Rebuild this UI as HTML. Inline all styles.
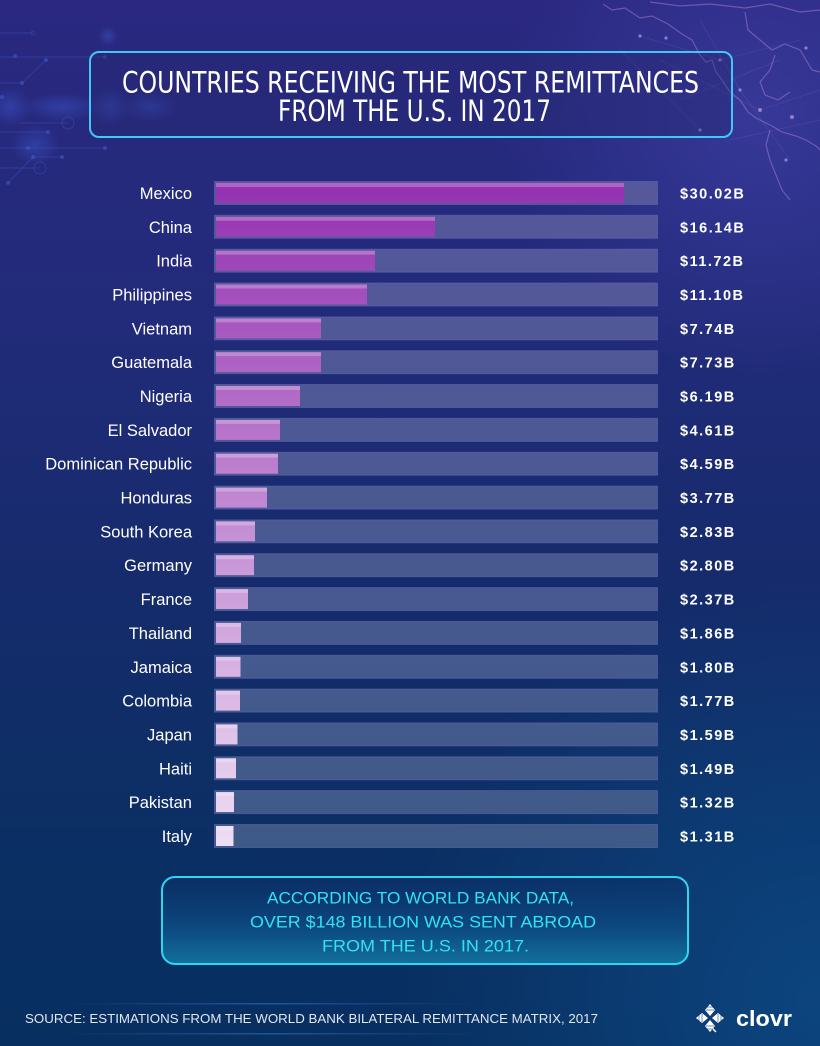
<!DOCTYPE html>
<html><head><meta charset="utf-8"><style>
html,body{margin:0;padding:0;background:#1b2b72;}
svg{display:block;}
</style></head><body>
<svg width="820" height="1046" viewBox="0 0 820 1046" xmlns="http://www.w3.org/2000/svg">
<defs>
<linearGradient id="bg" x1="0" y1="0" x2="0" y2="1">
<stop offset="0" stop-color="#2a2880"/>
<stop offset="0.3" stop-color="#222b7a"/>
<stop offset="0.55" stop-color="#162b6c"/>
<stop offset="0.8" stop-color="#0b2f64"/>
<stop offset="1" stop-color="#072f60"/>
</linearGradient>
<radialGradient id="glowbr" cx="820" cy="1000" r="420" gradientUnits="userSpaceOnUse">
<stop offset="0" stop-color="#0e4a86" stop-opacity="0.8"/>
<stop offset="1" stop-color="#0e4a86" stop-opacity="0"/>
</radialGradient>
<radialGradient id="glowtr" cx="760" cy="120" r="260" gradientUnits="userSpaceOnUse">
<stop offset="0" stop-color="#4a4ab8" stop-opacity="0.45"/>
<stop offset="1" stop-color="#4a4ab8" stop-opacity="0"/>
</radialGradient>
<radialGradient id="blob" cx="0.5" cy="0.5" r="0.5">
<stop offset="0" stop-color="#3c5ad0" stop-opacity="0.45"/>
<stop offset="1" stop-color="#3c5ad0" stop-opacity="0"/>
</radialGradient>
<linearGradient id="trk" x1="0" y1="181" x2="0" y2="848" gradientUnits="userSpaceOnUse">
<stop offset="0" stop-color="#56589c"/>
<stop offset="1" stop-color="#3e5a88"/>
</linearGradient>
<linearGradient id="fil" x1="0" y1="181" x2="0" y2="848" gradientUnits="userSpaceOnUse">
<stop offset="0" stop-color="#9330b0"/>
<stop offset="0.5" stop-color="#c28bd3"/>
<stop offset="1" stop-color="#eedef4"/>
</linearGradient>
<linearGradient id="info" x1="0" y1="0" x2="0" y2="1">
<stop offset="0" stop-color="#0a2f68" stop-opacity="0.6"/>
<stop offset="0.6" stop-color="#0c4a80"/>
<stop offset="1" stop-color="#12709c"/>
</linearGradient>
<linearGradient id="hl" x1="0" y1="0" x2="1" y2="0">
<stop offset="0" stop-color="#3a7ad8" stop-opacity="0"/>
<stop offset="0.5" stop-color="#3a7ad8" stop-opacity="0.5"/>
<stop offset="1" stop-color="#3a7ad8" stop-opacity="0"/>
</linearGradient>
</defs>

<rect x="0" y="0" width="820" height="1046" fill="url(#bg)"/>
<rect x="0" y="0" width="820" height="1046" fill="url(#glowbr)"/>
<rect x="0" y="0" width="820" height="1046" fill="url(#glowtr)"/>

<!-- left circuit decoration -->
<g stroke="#4060d0" stroke-opacity="0.35" stroke-width="1" fill="none">
<path d="M0 33 H33"/>
<path d="M0 57 H105"/>
<path d="M0 83 H22 L46 60"/>
<path d="M0 148 H105"/>
<path d="M20 123 H68"/>
<path d="M0 132 H48"/>
<path d="M33 157 H62"/>
<path d="M8 183 L33 157"/>
<path d="M0 168 H40"/>
<circle cx="33" cy="33" r="2"/>
<circle cx="68" cy="123" r="6"/>
<circle cx="40" cy="168" r="6"/>
</g>
<g fill="#4a66d8" fill-opacity="0.45">
<circle cx="15" cy="56" r="2"/><circle cx="46" cy="60" r="2"/><circle cx="105" cy="57" r="2"/>
<circle cx="22" cy="83" r="2"/><circle cx="2" cy="97" r="2"/><circle cx="48" cy="132" r="2"/>
<circle cx="33" cy="157" r="2"/><circle cx="62" cy="157" r="2"/><circle cx="28" cy="148" r="2"/>
<circle cx="105" cy="148" r="2"/><circle cx="8" cy="183" r="2"/>
</g>
<ellipse cx="10" cy="107" rx="22" ry="20" fill="url(#blob)"/>
<ellipse cx="62" cy="107" rx="40" ry="14" fill="url(#blob)"/>
<ellipse cx="110" cy="107" rx="20" ry="20" fill="url(#blob)"/>
<ellipse cx="150" cy="107" rx="30" ry="16" fill="url(#blob)"/>
<ellipse cx="108" cy="36" rx="10" ry="10" fill="url(#blob)"/>
<ellipse cx="35" cy="145" rx="25" ry="20" fill="url(#blob)"/>

<!-- top-right map decoration -->
<g stroke="#b68ad8" stroke-opacity="0.45" stroke-width="1.2" fill="none">
<path d="M603 4 L612 10 L625 8 L640 18 L652 16 L668 24 L682 34 L692 40 L700 55 L706 62 L712 60 L716 72 L722 80 L730 92 L740 100 L748 112 L756 118 L764 122 L772 126"/>
<path d="M772 126 L782 132 L796 136 L806 140 L816 146 L820 150"/>
<path d="M770 130 L766 145 L770 160 L776 175 L782 190 L790 200"/>
<path d="M650 2 L680 6 L710 4 L745 8 L770 4 L800 12 L820 10"/>
<path d="M745 12 L748 30 L760 40 L772 50 L785 44 L800 50 L812 70 L820 72"/>
<path d="M775 55 L770 70 L760 82 L765 95 L778 100 L790 92"/>
</g>
<g stroke="#8a7ad8" stroke-opacity="0.2" stroke-width="0.8" fill="none">
<path d="M640 36 L720 60 L800 40"/><path d="M660 60 L760 110 L820 90"/>
<path d="M700 20 L740 90 L790 160"/><path d="M620 50 L700 130"/>
<path d="M730 140 L820 120"/><path d="M680 100 L780 60"/>
</g>
<g fill="#c8b0f0" fill-opacity="0.6">
<circle cx="666" cy="38" r="1.6"/><circle cx="720" cy="60" r="1.6"/><circle cx="760" cy="110" r="2"/>
<circle cx="740" cy="90" r="1.6"/><circle cx="786" cy="160" r="1.6"/><circle cx="806" cy="48" r="1.6"/>
<circle cx="792" cy="117" r="2"/><circle cx="700" cy="130" r="1.6"/><circle cx="640" cy="36" r="1.6"/>
</g>

<!-- title box -->
<rect x="90" y="52" width="642" height="85" rx="9" ry="9" fill="#24276f" fill-opacity="0.35" stroke="#43c6f4" stroke-width="2"/>
<g font-family="'DejaVu Sans Condensed','Liberation Sans Narrow','Liberation Sans',sans-serif" font-size="29" fill="#ffffff" font-weight="normal">
<text x="122" y="92.5" textLength="577" lengthAdjust="spacingAndGlyphs">COUNTRIES RECEIVING THE MOST REMITTANCES</text>
<text x="278" y="121" textLength="273" lengthAdjust="spacingAndGlyphs">FROM THE U.S. IN 2017</text>
</g>

<!-- bars -->
<g stroke="#6468b0" stroke-opacity="0.55" stroke-width="1" fill="url(#trk)">
<rect x="214.5" y="181.5" width="443" height="23"/>
<rect x="214.5" y="215.3" width="443" height="23"/>
<rect x="214.5" y="249.2" width="443" height="23"/>
<rect x="214.5" y="283.0" width="443" height="23"/>
<rect x="214.5" y="316.9" width="443" height="23"/>
<rect x="214.5" y="350.7" width="443" height="23"/>
<rect x="214.5" y="384.5" width="443" height="23"/>
<rect x="214.5" y="418.4" width="443" height="23"/>
<rect x="214.5" y="452.2" width="443" height="23"/>
<rect x="214.5" y="486.1" width="443" height="23"/>
<rect x="214.5" y="519.9" width="443" height="23"/>
<rect x="214.5" y="553.7" width="443" height="23"/>
<rect x="214.5" y="587.6" width="443" height="23"/>
<rect x="214.5" y="621.4" width="443" height="23"/>
<rect x="214.5" y="655.3" width="443" height="23"/>
<rect x="214.5" y="689.1" width="443" height="23"/>
<rect x="214.5" y="722.9" width="443" height="23"/>
<rect x="214.5" y="756.8" width="443" height="23"/>
<rect x="214.5" y="790.6" width="443" height="23"/>
<rect x="214.5" y="824.5" width="443" height="23"/>
</g>
<g fill="url(#fil)">
<rect x="216" y="183" width="408" height="20"/>
<rect x="216" y="216.8" width="219" height="20"/>
<rect x="216" y="250.7" width="159" height="20"/>
<rect x="216" y="284.5" width="151" height="20"/>
<rect x="216" y="318.4" width="105" height="20"/>
<rect x="216" y="352.2" width="105" height="20"/>
<rect x="216" y="386.0" width="84" height="20"/>
<rect x="216" y="419.9" width="64" height="20"/>
<rect x="216" y="453.7" width="62" height="20"/>
<rect x="216" y="487.6" width="51" height="20"/>
<rect x="216" y="521.4" width="39" height="20"/>
<rect x="216" y="555.2" width="38" height="20"/>
<rect x="216" y="589.1" width="32" height="20"/>
<rect x="216" y="622.9" width="25" height="20"/>
<rect x="216" y="656.8" width="24.5" height="20"/>
<rect x="216" y="690.6" width="24" height="20"/>
<rect x="216" y="724.4" width="21.5" height="20"/>
<rect x="216" y="758.3" width="20" height="20"/>
<rect x="216" y="792.1" width="18" height="20"/>
<rect x="216" y="826.0" width="17.5" height="20"/>
</g>
<g fill="#ffffff" fill-opacity="0.25">
<rect x="216" y="183" width="408" height="4"/>
<rect x="216" y="216.8" width="219" height="4"/>
<rect x="216" y="250.7" width="159" height="4"/>
<rect x="216" y="284.5" width="151" height="4"/>
<rect x="216" y="318.4" width="105" height="4"/>
<rect x="216" y="352.2" width="105" height="4"/>
<rect x="216" y="386.0" width="84" height="4"/>
<rect x="216" y="419.9" width="64" height="4"/>
<rect x="216" y="453.7" width="62" height="4"/>
<rect x="216" y="487.6" width="51" height="4"/>
<rect x="216" y="521.4" width="39" height="4"/>
<rect x="216" y="555.2" width="38" height="4"/>
<rect x="216" y="589.1" width="32" height="4"/>
<rect x="216" y="622.9" width="25" height="4"/>
<rect x="216" y="656.8" width="24.5" height="4"/>
<rect x="216" y="690.6" width="24" height="4"/>
<rect x="216" y="724.4" width="21.5" height="4"/>
<rect x="216" y="758.3" width="20" height="4"/>
<rect x="216" y="792.1" width="18" height="4"/>
<rect x="216" y="826.0" width="17.5" height="4"/>
</g>

<!-- country labels -->
<g font-family="'Liberation Sans',sans-serif" font-size="16.5" fill="#ffffff" text-anchor="end">
<text x="192" y="199">Mexico</text>
<text x="192" y="232.8">China</text>
<text x="192" y="266.7">India</text>
<text x="192" y="300.5">Philippines</text>
<text x="192" y="334.4">Vietnam</text>
<text x="192" y="368.2">Guatemala</text>
<text x="192" y="402">Nigeria</text>
<text x="192" y="435.9">El Salvador</text>
<text x="192" y="469.7">Dominican Republic</text>
<text x="192" y="503.6">Honduras</text>
<text x="192" y="537.4">South Korea</text>
<text x="192" y="571.2">Germany</text>
<text x="192" y="605.1">France</text>
<text x="192" y="638.9">Thailand</text>
<text x="192" y="672.8">Jamaica</text>
<text x="192" y="706.6">Colombia</text>
<text x="192" y="740.4">Japan</text>
<text x="192" y="774.3">Haiti</text>
<text x="192" y="808.1">Pakistan</text>
<text x="192" y="842">Italy</text>
</g>

<!-- values -->
<g font-family="'Liberation Sans',sans-serif" font-size="14.5" font-weight="bold" fill="#ffffff" letter-spacing="1.5">
<text x="680" y="198.5">$30.02B</text>
<text x="680" y="232.3">$16.14B</text>
<text x="680" y="266.2">$11.72B</text>
<text x="680" y="300">$11.10B</text>
<text x="680" y="333.9">$7.74B</text>
<text x="680" y="367.7">$7.73B</text>
<text x="680" y="401.5">$6.19B</text>
<text x="680" y="435.4">$4.61B</text>
<text x="680" y="469.2">$4.59B</text>
<text x="680" y="503.1">$3.77B</text>
<text x="680" y="536.9">$2.83B</text>
<text x="680" y="570.7">$2.80B</text>
<text x="680" y="604.6">$2.37B</text>
<text x="680" y="638.4">$1.86B</text>
<text x="680" y="672.3">$1.80B</text>
<text x="680" y="706.1">$1.77B</text>
<text x="680" y="739.9">$1.59B</text>
<text x="680" y="773.8">$1.49B</text>
<text x="680" y="807.6">$1.32B</text>
<text x="680" y="841.5">$1.31B</text>
</g>

<!-- info box -->
<rect x="162" y="877" width="526" height="87" rx="13" ry="13" fill="url(#info)" stroke="#2ed6ef" stroke-width="2"/>
<g font-family="'Liberation Sans',sans-serif" font-size="17" fill="#33e2f2">
<text x="267" y="903.5" textLength="307" lengthAdjust="spacingAndGlyphs">ACCORDING TO WORLD BANK DATA,</text>
<text x="250" y="927.5" textLength="346" lengthAdjust="spacingAndGlyphs">OVER $148 BILLION WAS SENT ABROAD</text>
<text x="322" y="951.5" textLength="207" lengthAdjust="spacingAndGlyphs">FROM THE U.S. IN 2017.</text>
</g>

<!-- footer -->
<rect x="60" y="1003" width="420" height="1.5" fill="url(#hl)"/>
<rect x="60" y="1033" width="420" height="1.5" fill="url(#hl)"/>
<text x="25" y="1023" font-family="'Liberation Sans',sans-serif" font-size="13" fill="#e2e6f2" textLength="573" lengthAdjust="spacingAndGlyphs">SOURCE: ESTIMATIONS FROM THE WORLD BANK BILATERAL REMITTANCE MATRIX, 2017</text>

<!-- clovr logo -->
<g transform="translate(710,1018)" fill="#ffffff">
<path d="M0 -2 L-5 -8 L0 -14 L5 -8 Z"/>
<path d="M-2 0 L-8 -5 L-14 0 L-8 5 Z"/>
<path d="M2 0 L8 -5 L14 0 L8 5 Z"/>
<path d="M0 2 L-5 8 L0 14 L5 8 Z"/>
<path d="M2 10 L6 14" stroke="#ffffff" stroke-width="1.5"/>
</g>
<g transform="translate(710,1018)" stroke="#0b3a70" stroke-width="0.7" stroke-opacity="0.8">
<path d="M-4 -8 H4 M-3 -11 H3 M-4 8 H4 M-3 11 H3"/>
<path d="M-8 -4 V4 M-11 -3 V3 M8 -4 V4 M11 -3 V3"/>
</g>
<text x="736" y="1026" font-family="'Liberation Sans',sans-serif" font-size="22" font-weight="bold" fill="#ffffff" textLength="56" lengthAdjust="spacingAndGlyphs">clovr</text>
</svg>
</body></html>
